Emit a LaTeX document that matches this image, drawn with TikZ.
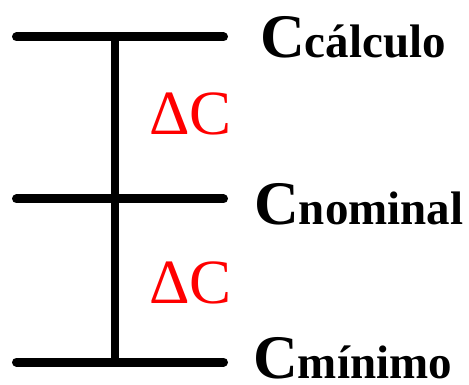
\documentclass[tikz,border=0pt]{standalone}
\usepackage{fontspec}
\setmainfont{Liberation Serif}
\definecolor{dred}{RGB}{255,0,0}
\tikzset{
  bar/.style={line width=9pt, line cap=round},
  stem/.style={line width=8pt},
  lbl/.style={anchor=base west, inner sep=0pt, font=\bfseries},
  delta/.style={anchor=base west, inner sep=0pt, text=dred, font=\fontsize{63}{63}\selectfont},
}
\newcommand{\biglabel}[1]{{\fontsize{62}{62}\selectfont C}{\fontsize{47}{47}\selectfont #1}}
\begin{document}
\begin{tikzpicture}[x=1pt,y=-1pt]
\useasboundingbox (0,0) rectangle (469,385);
\coordinate (t1) at (16.5,37);
\coordinate (t2) at (223.5,37);
\coordinate (m1) at (16.5,199);
\coordinate (m2) at (223.5,199);
\coordinate (b1) at (16.5,362);
\coordinate (b2) at (223.5,362);
\coordinate (vt) at (115,37);
\coordinate (vb) at (115,362);
\draw[stem] (vt) -- (vb);
\draw[bar] (t1) -- (t2);
\draw[bar] (m1) -- (m2);
\draw[bar] (b1) -- (b2);
\node[lbl] (lc) at (260,58) {\biglabel{cálculo}};
\node[lbl] (ln) at (254,225) {\biglabel{nominal}};
\node[lbl] (lm) at (253,378) {\biglabel{mínimo}};
\node[delta] (d1) at (149,135) {ΔC};
\node[delta] (d2) at (149,303) {ΔC};
\end{tikzpicture}
\end{document}
